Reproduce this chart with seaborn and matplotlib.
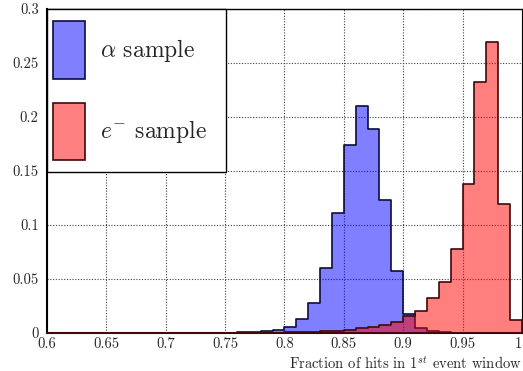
import numpy as np
import pandas as pd
import matplotlib
matplotlib.use("Agg")
import matplotlib.pyplot as plt
import seaborn as sns
from matplotlib.patches import Rectangle
from matplotlib.legend_handler import HandlerPatch

# ---- data (fraction of events per 0.01 bin) ----
alpha_bin_lo = [0.76, 0.77, 0.78, 0.79, 0.80, 0.81, 0.82, 0.83, 0.84, 0.85,
                0.86, 0.87, 0.88, 0.89, 0.90, 0.91, 0.92, 0.93]
alpha_frac = [0.0005, 0.001, 0.002, 0.0025, 0.0055, 0.0127, 0.0275, 0.0605, 0.111, 0.174,
              0.210, 0.189, 0.123, 0.0574, 0.0178, 0.005, 0.0015, 0.0005]

elec_bin_lo = [0.80, 0.81, 0.82, 0.83, 0.84, 0.85, 0.86, 0.87, 0.88, 0.89,
               0.90, 0.91, 0.92, 0.93, 0.94, 0.95, 0.96, 0.97, 0.98, 0.99]
elec_frac = [0.0005, 0.0008, 0.0012, 0.0016, 0.002, 0.0032, 0.0043, 0.0052, 0.0074, 0.0102,
             0.0157, 0.0206, 0.032, 0.0475, 0.078, 0.138, 0.2327, 0.2697, 0.1194, 0.012]

bin_width = 0.01
x_range = (0.6, 1.0)
y_range = (0.0, 0.3)
xtick_vals = [0.6, 0.65, 0.7, 0.75, 0.8, 0.85, 0.9, 0.95, 1.0]
xtick_labels = ["0.6", "0.65", "0.7", "0.75", "0.8", "0.85", "0.9", "0.95", "1"]
ytick_vals = [0.0, 0.05, 0.1, 0.15, 0.2, 0.25, 0.3]
ytick_labels = ["0", "0.05", "0.1", "0.15", "0.2", "0.25", "0.3"]
labels = [r"$\alpha$ sample", r"$e^{-}$ sample"]
xlabel = r"Fraction of hits in 1$^{st}$ event window"

sns.set_style("white")
plt.rcParams["font.family"] = "serif"
plt.rcParams["font.serif"] = ["cmr10", "DejaVu Serif"]
plt.rcParams["mathtext.fontset"] = "cm"
plt.rcParams["axes.formatter.use_mathtext"] = True

df_a = pd.DataFrame({"x": np.array(alpha_bin_lo) + bin_width / 2, "w": alpha_frac})
df_e = pd.DataFrame({"x": np.array(elec_bin_lo) + bin_width / 2, "w": elec_frac})

fig = plt.figure(figsize=(5.23, 3.71), dpi=100)
ax = fig.add_axes([47 / 523, 1 - 333 / 371, 475 / 523, 324 / 371])

sns.histplot(data=df_a, x="x", weights="w", binwidth=bin_width, binrange=x_range,
             element="step", fill=True, color=(0, 0, 1), alpha=0.5,
             edgecolor="#0c0c40", linewidth=1.2, ax=ax, zorder=3)
sns.histplot(data=df_e, x="x", weights="w", binwidth=bin_width, binrange=x_range,
             element="step", fill=True, color=(1, 0, 0), alpha=0.5,
             edgecolor="#400808", linewidth=1.2, ax=ax, zorder=4)

ax.set_xlim(*x_range)
ax.set_ylim(*y_range)
ax.set_xticks(xtick_vals)
ax.set_xticklabels(xtick_labels)
ax.set_yticks(ytick_vals)
ax.set_yticklabels(ytick_labels)
ax.get_xticklabels()[-1].set_horizontalalignment("right")
ax.set_xticks(np.arange(0.6, 1.0001, 0.01), minor=True)
ax.set_yticks(np.arange(0.0, 0.3001, 0.01), minor=True)
ax.tick_params(axis="x", which="major", direction="in", length=7, width=1, pad=3, labelsize=10.5)
ax.tick_params(axis="x", which="minor", direction="in", length=3.5, width=1)
ax.tick_params(axis="y", which="major", direction="in", length=10, width=1.2, pad=6, labelsize=10.5)
ax.tick_params(axis="y", which="minor", direction="in", length=4.5, width=1.2)
ax.grid(True, which="major", linestyle=(0, (1, 1.5)), color="0.25", linewidth=0.8, zorder=0)
ax.set_axisbelow(True)
ax.set_ylabel("")
ax.set_xlabel(xlabel, loc="right", fontsize=10.5, labelpad=3)
for s in ["left", "top", "right"]:
    ax.spines[s].set_color("black")
ax.spines["left"].set_linewidth(1.5)
ax.spines["top"].set_linewidth(1.0)
ax.spines["bottom"].set_color("#400808")
ax.spines["bottom"].set_linewidth(1.5)

fs = 17
shift = 6 / 100 * 72  # points


def make_patch(legend, orig_handle, xdescent, ydescent, width, height, fontsize):
    return Rectangle((-xdescent - shift, -ydescent), width + shift, height)


h_a = Rectangle((0, 0), 1, 1, facecolor=(0.5, 0.5, 1), edgecolor="#0c0c40", linewidth=1.2)
h_e = Rectangle((0, 0), 1, 1, facecolor=(1, 0.5, 0.5), edgecolor="#400808", linewidth=1.2)
leg = ax.legend([h_a, h_e], labels, loc="upper left", bbox_to_anchor=(0, 0, 179 / 475, 1),
                mode="expand", borderaxespad=0, fontsize=fs, frameon=True, fancybox=False,
                handlelength=1.08, handleheight=3.38, labelspacing=1.0,
                handletextpad=0.63, borderpad=0.52,
                handler_map={Rectangle: HandlerPatch(patch_func=make_patch)})
leg.get_frame().set_edgecolor("black")
leg.get_frame().set_linewidth(1.0)
leg.get_frame().set_alpha(1)
leg.set_zorder(10)

fig.savefig("out.png", dpi=100)
